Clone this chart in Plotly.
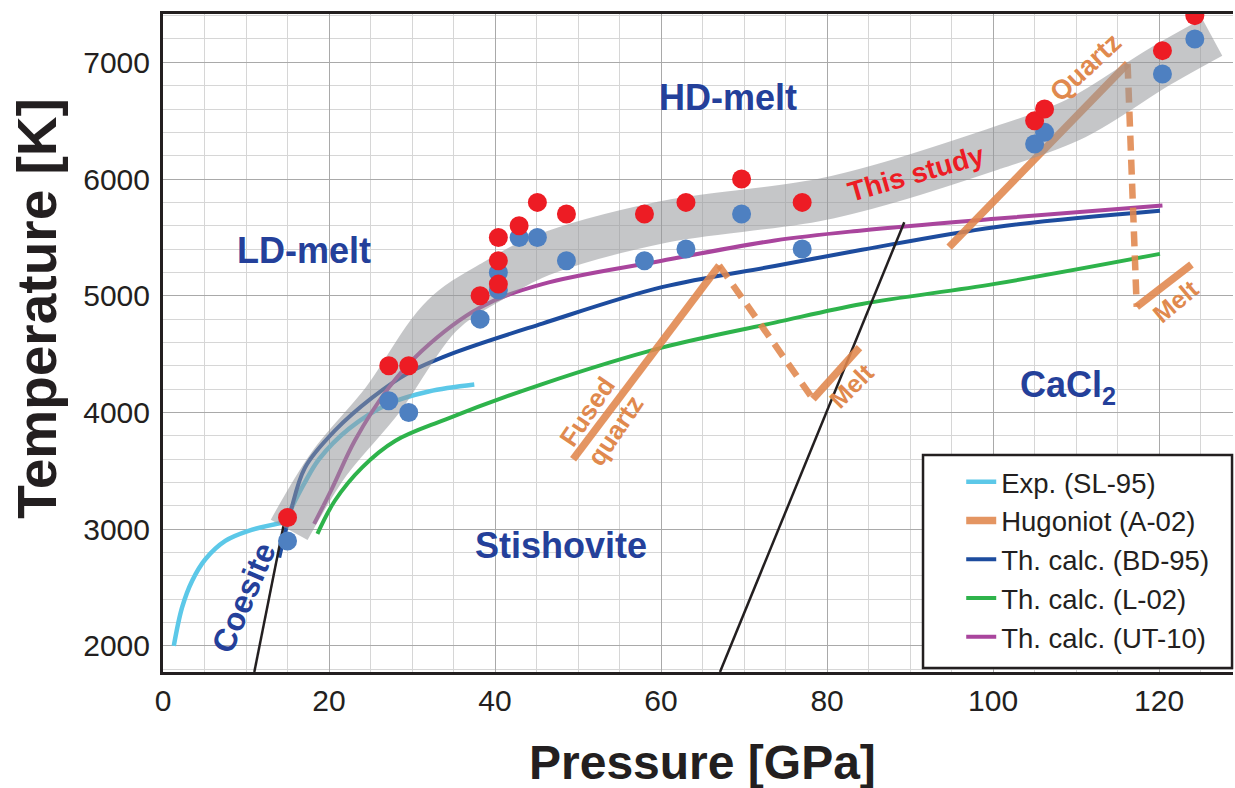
import plotly.graph_objects as go

# ---------------- data ----------------
# "This study" band centre line
band_P = [15.2, 20.0, 26.4, 33.6, 40.2, 45.6, 60.1, 80.2, 100.2, 110.0, 120.0, 126.4]
band_T = [2995, 3560, 4103, 4830, 5146, 5345, 5630, 5838, 6260, 6520, 6960, 7215]

# This study: upper (red) and lower (blue) temperatures
red_P = [15.0, 27.2, 29.6, 38.2, 40.4, 40.4, 40.4, 42.9, 45.1, 48.6, 58.0, 63.0, 69.7, 77.0, 105.0, 106.2, 120.4, 124.3]
red_T = [3100, 4400, 4400, 5000, 5500, 5300, 5100, 5600, 5800, 5700, 5700, 5800, 6000, 5800, 6500, 6600, 7100, 7400]
blue_P = [15.0, 27.2, 29.6, 38.2, 40.4, 40.4, 42.9, 45.1, 48.6, 58.0, 63.0, 69.7, 77.0, 105.0, 106.2, 120.4, 124.3]
blue_T = [2900, 4100, 4000, 4800, 5200, 5050, 5500, 5500, 5300, 5300, 5400, 5700, 5400, 6300, 6400, 6900, 7200]

# Exp. (SL-95)
sl95a_P = [1.3, 2.3, 3.5, 5.1, 7.5, 10.3, 14.6]
sl95a_T = [2000, 2330, 2557, 2743, 2900, 2986, 3060]
sl95b_P = [14.6, 15.6, 17.0, 18.8, 22.4, 27.2, 32.0, 37.5]
sl95b_T = [3060, 3200, 3390, 3600, 3860, 4075, 4180, 4240]

# Th. calc. (BD-95)
bd95_P = [14.0, 15.3, 17.1, 20.7, 25.2, 29.6, 34.8, 45.7, 60.1, 73.7, 84.2, 100.2, 120.1]
bd95_T = [2757, 3130, 3527, 3844, 4127, 4341, 4504, 4762, 5074, 5255, 5394, 5588, 5728]

# Th. calc. (L-02)
l02_P = [18.6, 20.7, 24.0, 28.0, 34.0, 45.7, 60.1, 73.7, 84.2, 100.2, 120.1]
l02_T = [2960, 3244, 3530, 3758, 3940, 4244, 4556, 4770, 4930, 5102, 5359]

# Th. calc. (UT-10)
ut10_P = [18.2, 20.4, 23.1, 27.2, 31.2, 38.2, 45.7, 60.1, 73.7, 84.2, 100.2, 120.4]
ut10_T = [3046, 3355, 3758, 4213, 4530, 4900, 5100, 5300, 5474, 5560, 5660, 5774]

# Hugoniot (A-02): fused quartz and quartz
fq_P = [49.4, 67.0]
fq_T = [3600, 5260]
fq_dash_P = [67.0, 78.3]
fq_dash_T = [5260, 4116]
fq_melt_P = [78.3, 83.9]
fq_melt_T = [4116, 4556]
qz_P = [94.7, 116.2]
qz_T = [5416, 6989]
qz_dash_P = [116.2, 117.3]
qz_dash_T = [6989, 4906]
qz_melt_P = [117.3, 123.9]
qz_melt_T = [4906, 5268]

# phase boundaries (black)
coe_P = [11.0, 14.6]
coe_T = [1777, 3060]
cacl_P = [67.1, 89.3]
cacl_T = [1777, 5630]

# tick labels
x_ticks = [0, 20, 40, 60, 80, 100, 120]
y_ticks = [2000, 3000, 4000, 5000, 6000, 7000]

# ---------------- style ----------------
FONT = "Liberation Sans, Arial, Helvetica, sans-serif"
INK = "#231F20"
CYAN = "#5CC8E8"
ORANGE = "rgba(224,134,76,0.88)"
ORANGE_T = "#E0894E"
BDBLUE = "#1D4C9E"
GREEN = "#2EB34B"
MAGENTA = "#A9459D"
LABEL_BLUE = "#24409A"
RED = "#ED1C24"
PTBLUE = "#4E80C1"

fig = go.Figure()

# model / experiment curves (below the band)
fig.add_trace(go.Scatter(x=sl95a_P, y=sl95a_T, mode="lines", name="Exp. (SL-95)",
                         line=dict(color=CYAN, width=4.5, shape="spline"),
                         legendgroup="g1", legendrank=1))
fig.add_trace(go.Scatter(x=sl95b_P, y=sl95b_T, mode="lines", showlegend=False,
                         line=dict(color=CYAN, width=4.5, shape="spline"), legendgroup="g1"))
fig.add_trace(go.Scatter(x=bd95_P, y=bd95_T, mode="lines", name="Th. calc. (BD-95)",
                         line=dict(color=BDBLUE, width=4, shape="spline"),
                         legendgroup="g3", legendrank=3))
fig.add_trace(go.Scatter(x=l02_P, y=l02_T, mode="lines", name="Th. calc. (L-02)",
                         line=dict(color=GREEN, width=4, shape="spline"),
                         legendgroup="g4", legendrank=4))
fig.add_trace(go.Scatter(x=ut10_P, y=ut10_T, mode="lines", name="Th. calc. (UT-10)",
                         line=dict(color=MAGENTA, width=4, shape="spline"),
                         legendgroup="g5", legendrank=5))

# black phase boundaries
for P, T in [(coe_P, coe_T), (cacl_P, cacl_T)]:
    fig.add_trace(go.Scatter(x=P, y=T, mode="lines", showlegend=False,
                             line=dict(color=INK, width=2.5)))

# Hugoniot lines
fig.add_trace(go.Scatter(x=fq_P, y=fq_T, mode="lines", name="Hugoniot (A-02)",
                         line=dict(color=ORANGE, width=7.5), legendgroup="g2", legendrank=2))
for P, T in [(fq_melt_P, fq_melt_T), (qz_P, qz_T), (qz_melt_P, qz_melt_T)]:
    fig.add_trace(go.Scatter(x=P, y=T, mode="lines", showlegend=False, legendgroup="g2",
                             line=dict(color=ORANGE, width=7.5)))
for P, T in [(fq_dash_P, fq_dash_T), (qz_dash_P, qz_dash_T)]:
    fig.add_trace(go.Scatter(x=P, y=T, mode="lines", showlegend=False, legendgroup="g2",
                             line=dict(color=ORANGE, width=6.5, dash="15px,9px")))

# grey band "This study"
fig.add_trace(go.Scatter(x=band_P, y=band_T, mode="lines", showlegend=False,
                         line=dict(color="rgba(150,152,155,0.55)", width=42, shape="spline")))

# data points
fig.add_trace(go.Scatter(x=blue_P, y=blue_T, mode="markers", showlegend=False,
                         marker=dict(color=PTBLUE, size=19, line=dict(width=0))))
fig.add_trace(go.Scatter(x=red_P, y=red_T, mode="markers", showlegend=False,
                         marker=dict(color=RED, size=19, line=dict(width=0))))

# ---------------- annotations ----------------
def lab(x, y, text, color, size, angle=0):
    fig.add_annotation(x=x, y=y, xref="x", yref="y", text=text, showarrow=False,
                       xanchor="center", yanchor="middle",
                       textangle=angle, font=dict(family=FONT, size=size, color=color))

lab(68.1, 6700, "<b>HD-melt</b>", LABEL_BLUE, 36)
lab(17.0, 5388, "<b>LD-melt</b>", LABEL_BLUE, 36)
lab(48.0, 2858, "<b>Stishovite</b>", LABEL_BLUE, 36)
lab(109.0, 4215, "<b>CaCl<sub>2</sub></b>", LABEL_BLUE, 36)
lab(9.8, 2416, "<b>Coesite</b>", LABEL_BLUE, 32, -67)
lab(90.7, 6048, "<b>This study</b>", RED, 28, -16)
lab(111.2, 6957, "<b>Quartz</b>", ORANGE_T, 27, -43)
lab(52.8, 3930, "<b>Fused<br>quartz</b>", ORANGE_T, 26, -56)
lab(82.9, 4230, "<b>Melt</b>", ORANGE_T, 25, -45)
lab(122.0, 4959, "<b>Melt</b>", ORANGE_T, 25, -40)

# axis titles
fig.add_annotation(x=0.504, y=-0.138, xref="paper", yref="paper", showarrow=False,
                   xanchor="center", yanchor="middle",
                   text="<b>Pressure [GPa]</b>", font=dict(family=FONT, size=48, color=INK))
fig.add_annotation(x=-0.118, y=0.553, xref="paper", yref="paper", showarrow=False,
                   xanchor="center", yanchor="middle",
                   textangle=-90, text="<b>Temperature [K]</b>",
                   font=dict(family=FONT, size=55, color=INK))

# legend box
fig.add_shape(type="rect", xref="paper", yref="paper", x0=0.7103, x1=0.9991,
              y0=0.006, y1=0.3298, fillcolor="white", line=dict(color=INK, width=2.5),
              layer="above")

fig.update_layout(
    width=1235, height=788,
    margin=dict(l=163, r=2, t=14, b=116),
    paper_bgcolor="white", plot_bgcolor="white",
    font=dict(family=FONT, color=INK),
    showlegend=True,
    legend=dict(x=0.746, y=0.326, xanchor="left", yanchor="top",
                bgcolor="rgba(0,0,0,0)", borderwidth=0,
                font=dict(family=FONT, size=27.5, color=INK),
                traceorder="normal", tracegroupgap=0),
    xaxis=dict(range=[0, 128.9], tickvals=x_ticks, ticktext=[str(v) for v in x_ticks],
               showgrid=True, gridcolor="#A9A9A9", gridwidth=1.3,
               minor=dict(dtick=5, tick0=0, showgrid=True, gridcolor="#D6D6D6", gridwidth=1),
               showline=True, linecolor=INK, linewidth=3, mirror=True,
               ticks="", ticklabelstandoff=0, zeroline=False,
               tickfont=dict(family=FONT, size=30, color=INK)),
    yaxis=dict(range=[1777, 7414], tickvals=y_ticks, ticktext=[str(v) for v in y_ticks],
               showgrid=True, gridcolor="#A9A9A9", gridwidth=1.3,
               minor=dict(dtick=200, tick0=0, showgrid=True, gridcolor="#D6D6D6", gridwidth=1),
               showline=True, linecolor=INK, linewidth=3, mirror=False,
               ticks="", ticklabelstandoff=4, zeroline=False,
               tickfont=dict(family=FONT, size=30, color=INK)),
)

# remove the page's default body margin so the 1235x788 figure fills the window exactly
fig.write_html("out.html",
               config={"displayModeBar": False},
               post_script="document.body.style.margin='0';"
                           "document.documentElement.style.overflow='hidden';"
                           "document.body.style.overflow='hidden';")
